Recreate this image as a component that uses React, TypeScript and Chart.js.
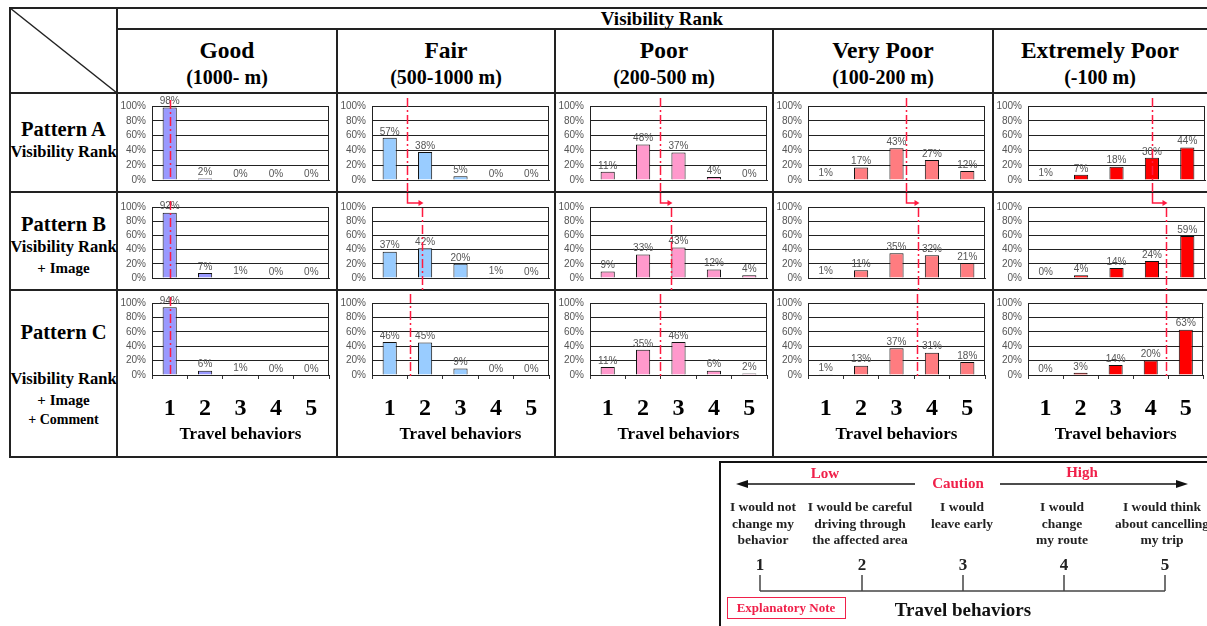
import React, { useEffect, useRef } from "react";
import { Chart, registerables } from "chart.js";
Chart.register(...registerables);

// ---------- data ----------
const travelBehaviors = ["1", "2", "3", "4", "5"];
const yTickValues = [0, 20, 40, 60, 80, 100];
const rankNames = ["Good", "Fair", "Poor", "Very Poor", "Extremely Poor"];
const rankRanges = ["(1000- m)", "(500-1000 m)", "(200-500 m)", "(100-200 m)", "(-100 m)"];

const goodA = [98, 2, 0, 0, 0];
const goodB = [92, 7, 1, 0, 0];
const goodC = [94, 6, 1, 0, 0];
const fairA = [57, 38, 5, 0, 0];
const fairB = [37, 42, 20, 1, 0];
const fairC = [46, 45, 9, 0, 0];
const poorA = [11, 48, 37, 4, 0];
const poorB = [9, 33, 43, 12, 4];
const poorC = [11, 35, 46, 6, 2];
const veryPoorA = [1, 17, 43, 27, 12];
const veryPoorB = [1, 11, 35, 32, 21];
const veryPoorC = [1, 13, 37, 31, 18];
const extPoorA = [1, 7, 18, 30, 44];
const extPoorB = [0, 4, 14, 24, 59];
const extPoorC = [0, 3, 14, 20, 63];

// mean travel behaviour (red dash-dot marker), in behaviour units 1..5
const meanA = [1.0, 1.5, 2.48, 3.27, 3.99];
const meanB = [1.0, 1.9, 2.79, 3.6, 4.4];
const meanC = [1.0, 1.58, 2.48, 3.57, 4.43];

const barColors = ["#9999FF", "#99CCFF", "#FF99CC", "#FF7C80", "#FF0000"];

const rowValues = [
  [goodA, fairA, poorA, veryPoorA, extPoorA],
  [goodB, fairB, poorB, veryPoorB, extPoorB],
  [goodC, fairC, poorC, veryPoorC, extPoorC],
];
const rowMeans = [meanA, meanB, meanC];

// ---------- layout ----------
const SERIF = '"Liberation Serif", "Times New Roman", serif';
const SANS = '"Liberation Sans", Arial, sans-serif';
const RED = "#FF1A40";
const TXT_RED = "#F0204A";
const colLeft = [117, 337, 555, 773, 993];
const colRight = [337, 555, 773, 993, 1207];
const rowTop = [94, 193, 291];
const rowBottom = [192, 290, 456];
const plotTopAbs = [106, 207, 303];
const plotBottomAbs = [183, 282, 375];
const PLOT_W = 177;
const Y_W = 34;

type MiniProps = {
  values: number[];
  color: string;
  mean: number;
  prevMean: number;
  row: number;
  col: number;
};

function MiniChart({ values, color, mean, prevMean, row, col }: MiniProps) {
  const ref = useRef<HTMLCanvasElement>(null);
  const left = colLeft[col] + 1;
  const top = rowTop[row];
  const width = colRight[col] - colLeft[col] - 1;
  const height = rowBottom[row] - rowTop[row];

  useEffect(() => {
    const isC = row === 2;
    const padTop = plotTopAbs[row] - top;
    const xHeight = top + height - plotBottomAbs[row];
    const padRight = width - Y_W - PLOT_W;

    const marks = {
      id: "marks",
      beforeDatasetsDraw(chart: any) {
        const { ctx, chartArea: a } = chart;
        ctx.save();
        ctx.strokeStyle = "#222";
        ctx.lineWidth = 1;
        ctx.strokeRect(Math.round(a.left) + 0.5, Math.round(a.top) + 0.5, Math.round(a.right - a.left) - 1, Math.round(a.bottom - a.top));
        ctx.restore();
      },
      afterDatasetsDraw(chart: any) {
        const { ctx, chartArea: a } = chart;
        const meta = chart.getDatasetMeta(0);
        ctx.save();
        ctx.font = `10px ${SANS}`;
        ctx.fillStyle = "#555";
        ctx.textAlign = "center";
        ctx.textBaseline = "bottom";
        meta.data.forEach((el: any, i: number) => {
          ctx.fillText(values[i] + "%", el.x, el.y - 1);
        });
        // mean marker
        const xs = chart.scales.x;
        const xB = Math.round(xs.getPixelForValue(mean - 1)) + 0.5;
        ctx.strokeStyle = RED;
        ctx.fillStyle = RED;
        ctx.lineWidth = 1.5;
        const dash = [9, 3, 2, 3];
        if (col === 0) {
          ctx.setLineDash(dash);
          ctx.beginPath();
          ctx.moveTo(xB, a.top - 6);
          ctx.lineTo(xB, a.bottom);
          ctx.stroke();
        } else if (row === 0) {
          ctx.setLineDash(dash);
          ctx.beginPath();
          ctx.moveTo(xB, 4);
          ctx.lineTo(xB, chart.height);
          ctx.stroke();
        } else if (row === 1) {
          const xA = Math.round(xs.getPixelForValue(prevMean - 1)) + 0.5;
          ctx.setLineDash([]);
          ctx.beginPath();
          ctx.moveTo(xA, 0);
          ctx.lineTo(xA, 10);
          ctx.lineTo(xB - 1, 10);
          ctx.stroke();
          ctx.beginPath();
          ctx.moveTo(xB + 1, 10);
          ctx.lineTo(xB - 4, 7);
          ctx.lineTo(xB - 4, 13);
          ctx.closePath();
          ctx.fill();
          ctx.setLineDash(dash);
          ctx.beginPath();
          ctx.moveTo(xB, 15);
          ctx.lineTo(xB, chart.height);
          ctx.stroke();
        } else {
          ctx.setLineDash(dash);
          ctx.beginPath();
          ctx.moveTo(xB, 3);
          ctx.lineTo(xB, a.bottom + 4);
          ctx.stroke();
        }
        ctx.restore();
      },
    };

    const chart = new Chart(ref.current as HTMLCanvasElement, {
      type: "bar",
      data: {
        labels: travelBehaviors,
        datasets: [
          {
            data: values,
            backgroundColor: color,
            borderColor: "#111",
            borderWidth: 1,
            categoryPercentage: 0.8,
            barPercentage: 0.5,
          },
        ],
      },
      options: {
        animation: false,
        responsive: false,
        maintainAspectRatio: false,
        events: [],
        layout: { padding: { top: padTop, right: padRight, bottom: 0, left: 0 } },
        plugins: { legend: { display: false }, tooltip: { enabled: false }, title: { display: false } },
        scales: {
          x: {
            type: "category",
            grid: { display: isC, drawOnChartArea: false, drawTicks: true, tickLength: 4, color: "#333", offset: true },
            border: { display: true, color: "#222", width: 1 },
            ticks: {
              display: isC,
              color: "#000",
              font: { family: SERIF, size: 24, weight: "bold" },
              padding: 15,
              maxRotation: 0,
              autoSkip: false,
            },
            title: {
              display: isC,
              text: "Travel behaviors",
              color: "#000",
              font: { family: SERIF, size: 17, weight: "bold" },
              padding: { top: 0, bottom: 11 },
            },
            afterFit: (s: any) => {
              s.height = xHeight;
            },
          },
          y: {
            min: 0,
            max: 100,
            afterBuildTicks: (s: any) => {
              s.ticks = yTickValues.map((v) => ({ value: v }));
            },
            ticks: {
              callback: (v: any) => v + "%",
              color: "#555",
              font: { family: SANS, size: 10 },
              padding: 6,
              autoSkip: false,
            },
            grid: { color: "#222", lineWidth: 1, drawTicks: false },
            border: { display: true, color: "#222", width: 1 },
            afterFit: (s: any) => {
              s.width = Y_W;
            },
          },
        },
      },
      plugins: [marks],
    } as any);
    return () => chart.destroy();
  }, []);

  return (
    <canvas
      ref={ref}
      width={width}
      height={height}
      style={{ position: "absolute", left, top, width, height }}
    />
  );
}

function T({ text, cx, cy, size, color = "#000", lh }: { text: string; cx: number; cy: number; size: number; color?: string; lh?: number }) {
  const h = lh ?? Math.round(size * 1.2);
  return (
    <div
      style={{
        position: "absolute",
        left: cx - 200,
        width: 400,
        top: cy - h / 2,
        height: h,
        lineHeight: h + "px",
        textAlign: "center",
        fontFamily: SERIF,
        fontWeight: "bold",
        fontSize: size,
        color,
        whiteSpace: "nowrap",
      }}
    >
      {text}
    </div>
  );
}

function HLine({ x1, x2, y, w = 2, c = "#222" }: { x1: number; x2: number; y: number; w?: number; c?: string }) {
  return <div style={{ position: "absolute", left: x1, top: y - w / 2, width: x2 - x1, height: w, background: c }} />;
}
function VLine({ y1, y2, x, w = 2, c = "#222" }: { y1: number; y2: number; x: number; w?: number; c?: string }) {
  return <div style={{ position: "absolute", left: x - w / 2, top: y1, width: w, height: y2 - y1, background: c }} />;
}

export default function App() {
  const noteCols = [
    { x: 763, lines: ["I would not", "change my", "behavior"] },
    { x: 860, lines: ["I would be careful", "driving through", "the affected area"] },
    { x: 962, lines: ["I would", "leave early"] },
    { x: 1062, lines: ["I would", "change", "my route"] },
    { x: 1162, lines: ["I would think", "about cancelling", "my trip"] },
  ];
  const noteNumX = [760, 862, 963, 1064, 1165];
  return (
    <div style={{ position: "absolute", left: 0, top: 0, width: 1207, height: 626, overflow: "hidden", background: "#fff" }}>
      {/* table grid */}
      <HLine x1={9} x2={1207} y={8} w={2} />
      <HLine x1={117} x2={1207} y={29} w={2} />
      <HLine x1={9} x2={1207} y={93} w={2} />
      <HLine x1={9} x2={1207} y={192} w={2} />
      <HLine x1={9} x2={1207} y={290} w={2} />
      <HLine x1={9} x2={1207} y={457} w={2} />
      <VLine x={10} y1={7} y2={458} />
      <VLine x={117} y1={7} y2={458} />
      {colLeft.slice(1).map((x) => (
        <VLine key={x} x={x} y1={29} y2={458} />
      ))}
      <svg style={{ position: "absolute", left: 0, top: 0 }} width={130} height={100}>
        <line x1={10} y1={8} x2={117} y2={93} stroke="#222" strokeWidth={1.5} />
      </svg>

      {/* headers */}
      <T text="Visibility Rank" cx={662} cy={18} size={19} />
      {rankNames.map((n, i) => (
        <React.Fragment key={n}>
          <T text={n} cx={(colLeft[i] + colRight[i]) / 2} cy={50} size={23.5} />
          <T text={rankRanges[i]} cx={(colLeft[i] + colRight[i]) / 2} cy={77} size={20} />
        </React.Fragment>
      ))}
      <T text="Pattern A" cx={63.5} cy={129} size={20.5} />
      <T text="Visibility Rank" cx={63.5} cy={152} size={16.5} />
      <T text="Pattern B" cx={63.5} cy={224} size={20.5} />
      <T text="Visibility Rank" cx={63.5} cy={247} size={16.5} />
      <T text="+ Image" cx={63.5} cy={268} size={15} />
      <T text="Pattern C" cx={63.5} cy={332} size={20.5} />
      <T text="Visibility Rank" cx={63.5} cy={379} size={16.5} />
      <T text="+ Image" cx={63.5} cy={400} size={15} />
      <T text="+ Comment" cx={63.5} cy={419} size={14} />

      {/* charts */}
      {rowValues.map((vals, r) =>
        vals.map((v, c) => (
          <MiniChart
            key={r + "-" + c}
            values={v}
            color={barColors[c]}
            mean={rowMeans[r][c]}
            prevMean={rowMeans[0][c]}
            row={r}
            col={c}
          />
        ))
      )}

      {/* explanatory note */}
      <div style={{ position: "absolute", left: 719, top: 461, width: 500, height: 163, border: "2px solid #111" }} />
      <svg style={{ position: "absolute", left: 0, top: 0 }} width={1207} height={626} pointerEvents="none">
        <line x1={744} y1={484} x2={915} y2={484} stroke="#111" strokeWidth={1.5} />
        <polygon points="736,484 748,480 748,488" fill="#111" />
        <line x1={1000} y1={484} x2={1180} y2={484} stroke="#111" strokeWidth={1.5} />
        <polygon points="1188,484 1176,480 1176,488" fill="#111" />
        <line x1={760} y1={591} x2={1165} y2={591} stroke="#444" strokeWidth={1.5} />
        {noteNumX.map((x) => (
          <line key={x} x1={x} y1={575} x2={x} y2={591} stroke="#444" strokeWidth={1.5} />
        ))}
        <rect x={727.5} y={597.5} width={118} height={21} fill="none" stroke={TXT_RED} strokeWidth={1} />
      </svg>
      <T text="Low" cx={825} cy={473} size={15} color={TXT_RED} />
      <T text="Caution" cx={958} cy={483} size={15} color={TXT_RED} />
      <T text="High" cx={1082} cy={472} size={15} color={TXT_RED} />
      {noteCols.map((nc) =>
        nc.lines.map((l, i) => <T key={nc.x + l} text={l} cx={nc.x} cy={507 + i * 16.5} size={13.5} color="#222" />)
      )}
      {noteNumX.map((x, i) => (
        <T key={"n" + x} text={travelBehaviors[i]} cx={x} cy={565} size={17} color="#222" />
      ))}
      <T text="Explanatory Note" cx={786} cy={608} size={13} color={TXT_RED} />
      <T text="Travel behaviors" cx={963} cy={609} size={19} color="#111" />
    </div>
  );
}
